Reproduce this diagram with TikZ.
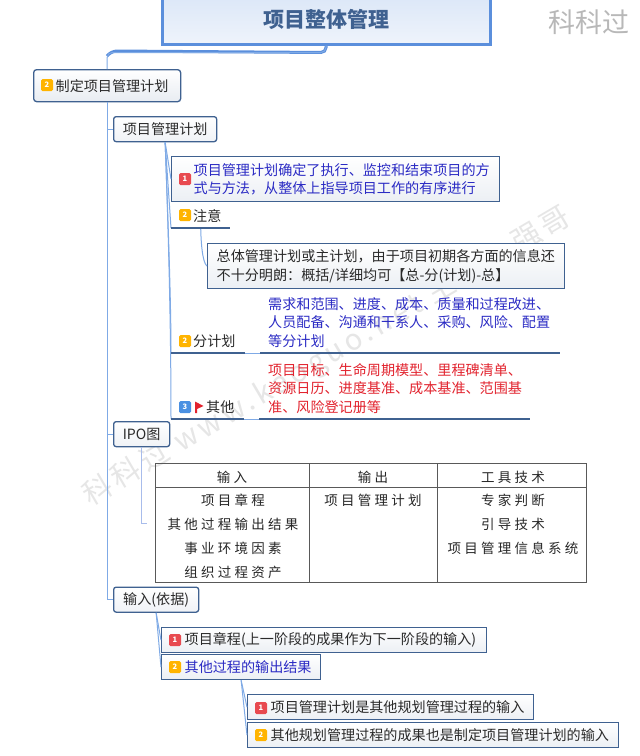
\documentclass[tikz,border=0pt]{standalone}
\usepackage{fontspec}
\setmainfont{Noto Sans CJK SC}
\newfontfamily\tablefont[LetterSpace=24]{Noto Sans CJK SC}
\newfontfamily\markfont[LetterSpace=14]{Noto Sans CJK SC}
\newcommand{\indt}{\hspace*{22pt}}
\definecolor{edgeblue}{HTML}{3F6190}
\definecolor{linkblue}{HTML}{7FAAE6}
\definecolor{trunkblue}{HTML}{5B8FDC}
\definecolor{tablelink}{HTML}{A8BCEB}
\definecolor{inkblue}{HTML}{2B2BC4}
\definecolor{inkred}{HTML}{E2232E}
\definecolor{inkdark}{HTML}{2A2A2A}
\definecolor{markgray}{HTML}{E6E6E6}
\definecolor{prioone}{HTML}{E84A50}
\definecolor{priotwo}{HTML}{FFB400}
\definecolor{priothree}{HTML}{4A90E2}
\tikzset{
  txt/.style={font=\fontsize{14.1}{18.6}\selectfont,text=inkdark,inner sep=0pt},
  rootbox/.style={txt,draw=edgeblue,line width=1.3pt,rounded corners=3pt,top color=white,bottom color=white!88!edgeblue,minimum height=32pt,anchor=north west,align=left},
  topicbox/.style={txt,draw=edgeblue,line width=1.3pt,rounded corners=2.5pt,top color=white,bottom color=white!92!edgeblue,minimum height=25pt,anchor=north west},
  leafbox/.style={txt,draw=edgeblue,line width=1.3pt,top color=white,bottom color=white!90!edgeblue,anchor=north west,align=left},
  smallleaf/.style={leafbox,minimum height=25pt},
  tagnode/.style={txt,anchor=south west,minimum height=23pt,align=left},
  prio/.style={rounded corners=1.5pt,minimum size=12pt,inner sep=0pt,text=white,font=\fontsize{7.5}{8}\bfseries\selectfont},
  rule/.style={draw=edgeblue,line width=1.2pt},
  link/.style={draw=linkblue,line width=1pt},
  gridline/.style={draw=black!65,line width=1pt},
  tablehead/.style={font=\tablefont\fontsize{13.5}{24}\selectfont,text=black!85,inner sep=0pt,anchor=center},
  tablecell/.style={font=\tablefont\fontsize{13.5}{24}\selectfont,text=black!85,inner sep=0pt,anchor=north,align=center}
}
\begin{document}
\begin{tikzpicture}[x=1pt,y=-1pt]
  \clip (0,0) rectangle (640,756);
  \fill[white] (0,0) rectangle (640,756);
  % watermark
  \node[font=\fontsize{27}{30}\selectfont,text=black!28,inner sep=0pt] (mark1) at (589,22) {科科过};
  \node[font=\markfont\fontsize{29}{32}\selectfont,text=markgray,inner sep=0pt,rotate=30.5] (mark2) at (327,357) {科科过 www.kaoguo.net 主讲：强哥};
  % title
  \node[draw=trunkblue,line width=3pt,top color=trunkblue!22!white,bottom color=trunkblue!10!white,font=\fontsize{21}{24}\bfseries\selectfont,text=edgeblue,minimum width=328pt,minimum height=50pt,inner sep=0pt] (title) at (326,19) {项目整体管理};
  % first level
  \node[rootbox,text width=147pt] (root) at (33,69) {\indt 制定项目管理计划};
  \node[topicbox,text width=103pt,align=center] (pm) at (113,116) {项目管理计划};
  \node[topicbox,text width=56pt,align=center] (ipo) at (113,421) {IPO图};
  \node[topicbox,text width=85pt,align=center] (input) at (113,586.5) {输入(依据)};
  % children of the plan
  \node[leafbox,text width=328pt,minimum height=45pt,text=inkblue] (plan) at (171,156) {\indt 项目管理计划确定了执行、监控和结束项目的方\\\indt 式与方法，从整体上指导项目工作的有序进行};
  \node[tagnode,text width=59pt] (note) at (171,228) {\indt 注意};
  \node[leafbox,text width=357pt,minimum height=45pt] (notebody) at (207,243) {\hspace*{9pt}总体管理计划或主计划，由于项目初期各方面的信息还\\\hspace*{9pt}不十分明朗：概括/详细均可【总-分(计划)-总】};
  \node[tagnode,text width=74pt] (subplan) at (171,353) {\indt 分计划};
  \node[tagnode,text width=300pt,text=inkblue,minimum height=61pt] (subtext) at (260,353) {\hspace*{8pt}需求和范围、进度、成本、质量和过程改进、\\\hspace*{8pt}人员配备、沟通和干系人、采购、风险、配置\\\hspace*{8pt}等分计划};
  \node[tagnode,text width=73pt] (other) at (171,419) {\hspace*{35pt}其他};
  \node[tagnode,text width=271pt,text=inkred,minimum height=61pt] (othertext) at (259,419) {\hspace*{9pt}项目目标、生命周期模型、里程碑清单、\\\hspace*{9pt}资源日历、进度基准、成本基准、范围基\\\hspace*{9pt}准、风险登记册等};
  % IPO table
  \node[gridline,draw,minimum width=431pt,minimum height=119pt,anchor=north west,inner sep=0pt] (ipotable) at (155,463) {};
  \draw[gridline] ([yshift=-24pt]ipotable.north west) -- ([yshift=-24pt]ipotable.north east);
  \draw[gridline] ([xshift=154pt]ipotable.north west) -- ([xshift=154pt]ipotable.south west);
  \draw[gridline] ([xshift=282pt]ipotable.north west) -- ([xshift=282pt]ipotable.south west);
  \node[tablehead] (headin) at (232,477) {输入};
  \node[tablehead] (headout) at (373,477) {输出};
  \node[tablehead] (headtool) at (513,477) {工具技术};
  \node[tablecell] (cellin) at (233,493.5) {项目章程\\其他过程输出结果\\事业环境因素\\组织过程资产};
  \node[tablecell] (cellout) at (373,493.5) {项目管理计划};
  \node[tablecell] (celltool) at (513,493.5) {专家判断\\引导技术\\项目管理信息系统};
  % children of the input
  \node[smallleaf,text width=325pt] (charter) at (161,627) {\hspace*{23pt}项目章程(上一阶段的成果作为下一阶段的输入)};
  \node[smallleaf,text width=159pt,text=inkblue] (results) at (161,654) {\hspace*{23pt}其他过程的输出结果};
  \node[smallleaf,text width=286pt] (resulta) at (247,694) {\hspace*{23pt}项目管理计划是其他规划管理过程的输入};
  \node[smallleaf,text width=371pt] (resultb) at (247,722) {\hspace*{23pt}其他规划管理过程的成果也是制定项目管理计划的输入};
  % priority tags
  \node[prio,fill=priotwo] (p1) at (47,85) {2};
  \node[prio,fill=prioone] (p2) at (185,179) {1};
  \node[prio,fill=priotwo] (p3) at (185,215) {2};
  \node[prio,fill=priotwo] (p4) at (185,341) {2};
  \node[prio,fill=priothree] (p5) at (185,407) {3};
  \node[prio,fill=prioone] (p6) at (175,640) {1};
  \node[prio,fill=priotwo] (p7) at (175,667) {2};
  \node[prio,fill=prioone] (p8) at (261,708) {1};
  \node[prio,fill=priotwo] (p9) at (261,735) {2};
  \fill[inkred] (195,401.5) -- (203.5,406) -- (197,409) -- (197,413) -- (195,413) -- cycle;
  % connectors
  \draw[link,line width=3pt,draw=trunkblue,rounded corners=5pt] (title.south) -- ++(0,7) -- (112,51) -- (107,56);
  \draw[link,rounded corners=5pt] (title.south) -- ++(0,7) -| (root.north);
  \draw[link] (root.south) |- (pm.west);
  \draw[link] (root.south) |- (ipo.west);
  \draw[link] (root.south) |- (input.west);
  \draw[link] (pm.south) -- (plan.west);
  \draw[link] (pm.south) -- (note.south west);
  \draw[link] (pm.south) .. controls (168,220) and (171,300) .. (subplan.south west);
  \draw[link] (pm.south) .. controls (168,220) and (171,320) .. (other.south west);
  \draw[link] (note.south) .. controls (201,240) and (202,262) .. (notebody.west);
  \draw[link,line width=.8pt] (subplan.south east) -- (subtext.south west);
  \draw[link,line width=.8pt] (other.south east) -- (othertext.south west);
  \coordinate (tablein) at (147,523);
  \draw[link,draw=tablelink] (ipo.south) |- (tablein);
  \draw[link] (input.south) -- (charter.west);
  \draw[link] (input.south) -- (results.west);
  \draw[link] (results.south) -- (resulta.west);
  \draw[link] (results.south) -- (resultb.west);
  % underlines
  \draw[rule] (note.south west) -- (note.south east);
  \draw[rule] (subplan.south west) -- (subplan.south east);
  \draw[rule] (subtext.south west) -- (subtext.south east);
  \draw[rule] (other.south west) -- (other.south east);
  \draw[rule] (othertext.south west) -- (othertext.south east);
\end{tikzpicture}
\end{document}
